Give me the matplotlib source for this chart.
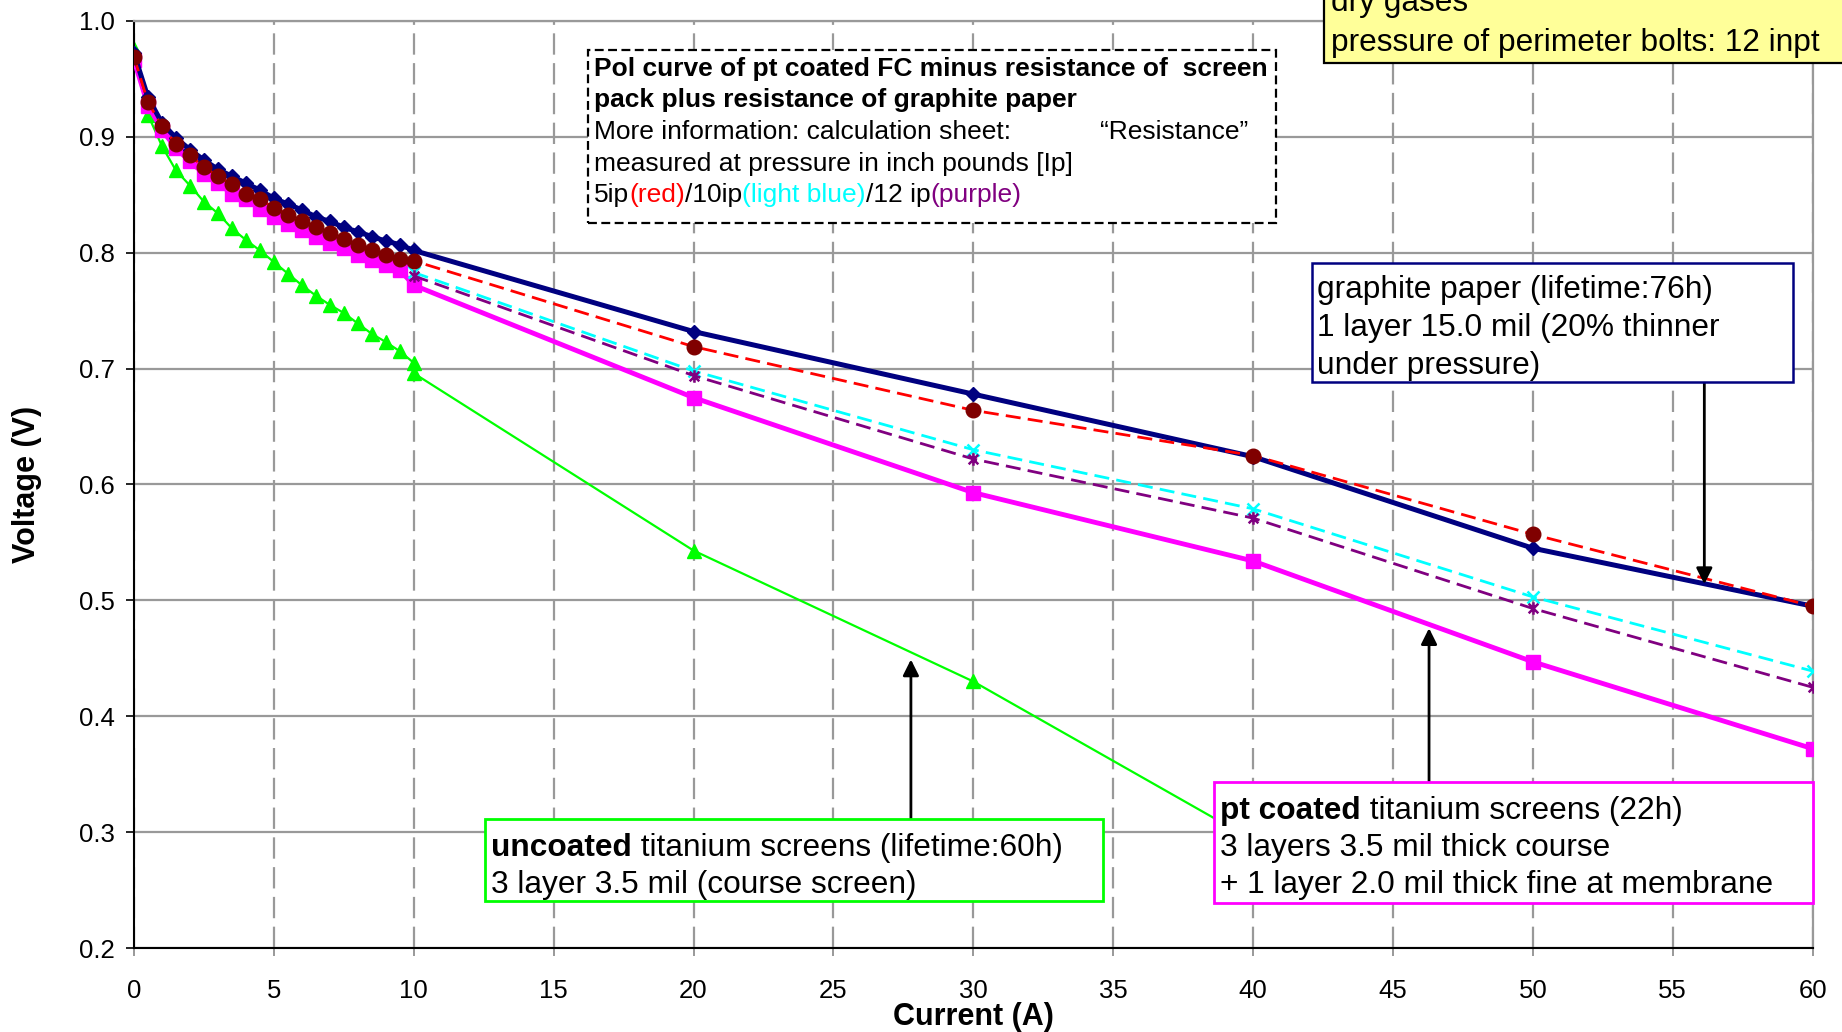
import matplotlib.pyplot as plt
from matplotlib.patches import Rectangle
from matplotlib.path import Path

plt.rcParams['font.family'] = ['Liberation Sans', 'DejaVu Sans']

# ---- data ----
current_fine = [0, 0.5, 1, 1.5, 2, 2.5, 3, 3.5, 4, 4.5, 5, 5.5, 6, 6.5, 7, 7.5,
                8, 8.5, 9, 9.5, 10, 20, 30, 40, 50, 60]
current_green = [0, 0.5, 1, 1.5, 2, 2.5, 3, 3.5, 4, 4.5, 5, 5.5, 6, 6.5, 7, 7.5,
                 8, 8.5, 9, 9.5, 10, 10, 20, 30, 40]
current_coarse = [10, 20, 30, 40, 50, 60]

graphite_paper = [0.972, 0.934, 0.912, 0.899, 0.889, 0.880, 0.872, 0.866, 0.860,
                  0.854, 0.847, 0.842, 0.837, 0.831, 0.827, 0.822, 0.818, 0.814,
                  0.810, 0.807, 0.802, 0.732, 0.678, 0.624, 0.545, 0.495]
pt_coated = [0.966, 0.927, 0.906, 0.890, 0.879, 0.868, 0.860, 0.851, 0.846,
             0.838, 0.831, 0.825, 0.820, 0.814, 0.808, 0.804, 0.798, 0.794,
             0.789, 0.785, 0.772, 0.675, 0.593, 0.534, 0.447, 0.372]
uncoated = [0.976, 0.919, 0.892, 0.871, 0.858, 0.844, 0.834, 0.821, 0.811,
            0.802, 0.792, 0.782, 0.772, 0.763, 0.755, 0.748, 0.739, 0.730,
            0.723, 0.715, 0.705, 0.696, 0.543, 0.430, 0.293]
pt_minus_r_5ip = [0.969, 0.930, 0.909, 0.894, 0.884, 0.874, 0.866, 0.859, 0.851,
                  0.846, 0.839, 0.833, 0.827, 0.822, 0.817, 0.812, 0.807, 0.802,
                  0.798, 0.795, 0.793, 0.719, 0.664, 0.625, 0.557, 0.495]
pt_minus_r_10ip = [0.783, 0.698, 0.630, 0.579, 0.503, 0.439]
pt_minus_r_12ip = [0.780, 0.694, 0.622, 0.571, 0.493, 0.425]

x_ticks = [0, 5, 10, 15, 20, 25, 30, 35, 40, 45, 50, 55, 60]
y_ticks = [0.2, 0.3, 0.4, 0.5, 0.6, 0.7, 0.8, 0.9, 1.0]

W, H = 1842, 1032
NOTE = 22.8   # font size of the note boxes
INFO = 19     # font size of the dashed info box


def fx(px):
    return px / W


def fy(py):
    return 1 - py / H


# excel style star: x with a vertical bar
star = Path([(-1, -1), (1, 1), (-1, 1), (1, -1), (0, -1.3), (0, 1.3)],
            [Path.MOVETO, Path.LINETO, Path.MOVETO, Path.LINETO, Path.MOVETO, Path.LINETO])

fig = plt.figure(figsize=(W / 100, H / 100), dpi=100)
ax = fig.add_axes([fx(134), fy(948), (1812.6 - 134) / W, (948 - 21) / H])

dash = (0, (5.4, 2.6))
ax.plot(current_green, uncoated, color='#00FF00', lw=1.6, marker='^', ms=10,
        zorder=2)
ax.plot(current_fine, pt_coated, color='#FF00FF', lw=3.5, marker='s', ms=9.5,
        zorder=3)
ax.plot(current_fine, graphite_paper, color='#000080', lw=3.6, marker='D', ms=7,
        zorder=3.2)
ax.plot(current_coarse, pt_minus_r_10ip, color='#00FFFF', lw=2, ls=dash,
        marker='x', ms=9, mew=1.8, zorder=3.3)
ax.plot(current_coarse, pt_minus_r_12ip, color='#800080', lw=2, ls=dash,
        marker=star, ms=9, mew=1.8, zorder=3.4)
ax.plot(current_fine, pt_minus_r_5ip, color='#FF0000', lw=2, ls=dash,
        marker='o', ms=10.5, mfc='#800000', mec='#800000', zorder=3.5)

ax.set_xlim(0, 60)
ax.set_ylim(0.2, 1.0)
ax.set_xticks(x_ticks)
ax.set_yticks(y_ticks)
ax.set_yticklabels(['%.1f' % v for v in y_ticks])

ax.set_axisbelow(True)
ax.yaxis.grid(True, color='#999999', lw=1.6, ls='-')
ax.xaxis.grid(True, color='#999999', lw=1.6, ls=(0, (9.6, 3.8)))
for side in ['top', 'right']:
    ax.spines[side].set_color('#999999')
    ax.spines[side].set_linewidth(1.6)
for side in ['left', 'bottom']:
    ax.spines[side].set_color('black')
    ax.spines[side].set_linewidth(1.5)

ax.tick_params(axis='y', direction='out', length=6, width=1.2, color='black',
               labelsize=18.5, pad=8)
ax.tick_params(axis='x', direction='out', length=5.5, width=1.2, color='#888888',
               labelsize=18.5, pad=17)

ax.set_xlabel('Current (A)', fontsize=22, fontweight='bold')
ax.xaxis.set_label_coords(0.5, -(1002 - 948) / (948 - 21))
ax.set_ylabel('Voltage (V)', fontsize=22, fontweight='bold', va='center')
ax.yaxis.set_label_coords(-(134 - 27) / (1812.6 - 134), 0.5)

# arrows pointing from the note boxes to the curves
arrow_kw = dict(arrowstyle='-|>', color='black', lw=2, mutation_scale=24,
                shrinkA=0, shrinkB=0)
ax.annotate('', xy=(27.77, 0.449), xytext=(27.77, 0.311), arrowprops=arrow_kw,
            zorder=4)
ax.annotate('', xy=(56.13, 0.514), xytext=(56.13, 0.689), arrowprops=arrow_kw,
            zorder=4)
ax.annotate('', xy=(46.29, 0.476), xytext=(46.29, 0.343), arrowprops=arrow_kw,
            zorder=4)


def box(x0, y0, x1, y1, edge, face='white', ls='-', lw=1.6):
    ax.add_patch(Rectangle((fx(x0), fy(y1)), fx(x1) - fx(x0), fy(y0) - fy(y1),
                           transform=fig.transFigure, facecolor=face,
                           edgecolor=edge, lw=lw, ls=ls, clip_on=False, zorder=5))


def rich_line(x, y, parts, size):
    prev = None
    for txt, weight, color in parts:
        if prev is None:
            prev = ax.text(fx(x), fy(y), txt, transform=fig.transFigure,
                           fontsize=size, fontweight=weight, color=color,
                           va='baseline', ha='left', zorder=6, clip_on=False)
        else:
            prev = ax.annotate(txt, xy=(1, 0), xycoords=prev, va='bottom',
                               ha='left', fontsize=size, fontweight=weight,
                               color=color, zorder=6, annotation_clip=False)


# dashed info box
box(588, 50, 1276, 223, 'black', ls=(0, (4, 2)), lw=1.6)
rich_line(594, 76, [('Pol curve of pt coated FC minus resistance of  screen', 'bold', 'black')], INFO)
rich_line(594, 107.5, [('pack plus resistance of graphite paper', 'bold', 'black')], INFO)
rich_line(594, 139, [('More information: calculation sheet:', 'normal', 'black')], INFO)
rich_line(1100, 139, [('\u201cResistance\u201d', 'normal', 'black')], INFO)
rich_line(594, 170.5, [('measured at pressure in inch pounds [Ip]', 'normal', 'black')], INFO)
rich_line(594, 202, [('5ip', 'normal', 'black'), ('(red)', 'normal', '#FF0000'),
                     ('/10ip', 'normal', 'black'), ('(light blue)', 'normal', '#00FFFF'),
                     ('/12 ip', 'normal', 'black'), ('(purple)', 'normal', '#800080')], INFO)

# yellow operating-conditions box (partly cut off by the figure edge)
box(1324, -40, 1900, 63, 'black', face='#FFFF99', lw=1.6)
rich_line(1331, 11, [('dry gases', 'normal', 'black')], NOTE)
rich_line(1331, 51, [('pressure of perimeter bolts: 12 inpt', 'normal', 'black')], NOTE)

# graphite paper note
box(1312, 263, 1793, 382, '#000080', lw=1.8)
rich_line(1317, 298, [('graphite paper (lifetime:76h)', 'normal', 'black')], NOTE)
rich_line(1317, 336, [('1 layer 15.0 mil (20% thinner', 'normal', 'black')], NOTE)
rich_line(1317, 374, [('under pressure)', 'normal', 'black')], NOTE)

# pt coated note
box(1214, 782, 1813, 903, '#FF00FF', lw=2)
rich_line(1220, 819, [('pt coated', 'bold', 'black'),
                      (' titanium screens (22h)', 'normal', 'black')], NOTE)
rich_line(1220, 856, [('3 layers 3.5 mil thick course', 'normal', 'black')], NOTE)
rich_line(1220, 893, [('+ 1 layer 2.0 mil thick fine at membrane', 'normal', 'black')], NOTE)

# uncoated note
box(485, 819, 1103, 901, '#00FF00', lw=2)
rich_line(491, 856, [('uncoated', 'bold', 'black'),
                     (' titanium screens (lifetime:60h)', 'normal', 'black')], NOTE)
rich_line(491, 893, [('3 layer 3.5 mil (course screen)', 'normal', 'black')], NOTE)

fig.savefig('out.png', dpi=100)
